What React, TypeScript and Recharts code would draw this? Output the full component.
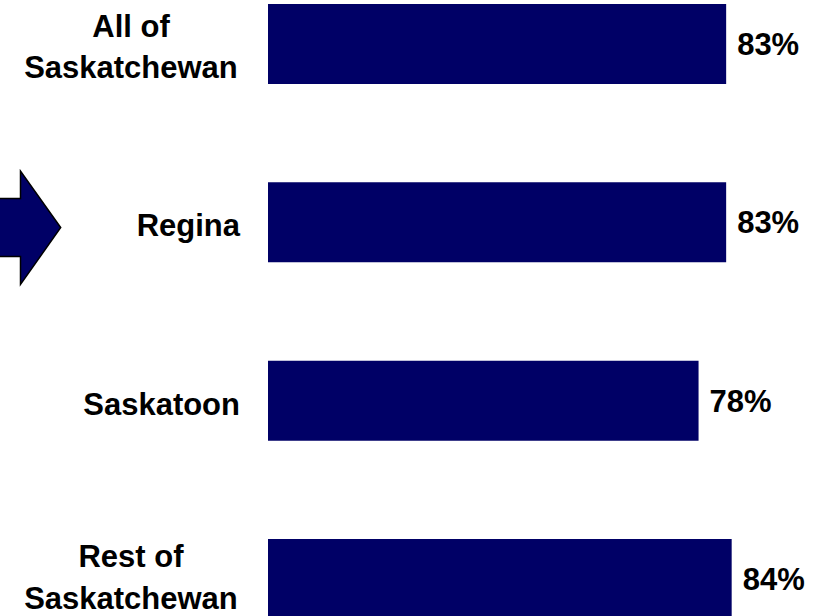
import React from 'react';
import { BarChart, Bar, XAxis, YAxis, LabelList } from 'recharts';

const categories = ['All of\nSaskatchewan', 'Regina', 'Saskatoon', 'Rest of\nSaskatchewan'];
const values = [83, 83, 78, 84];
const valueLabels = ['83%', '83%', '78%', '84%'];
const highlighted = 'Regina';

const data = categories.map((name, i) => ({ name, value: values[i], label: valueLabels[i] }));

const FONT = '"Liberation Sans", Arial, Helvetica, sans-serif';
const BAR_COLOR = '#000066';
const FONT_SIZE = 31;

function CategoryTick(props: any) {
  const { y, payload, index } = props;
  const name = String(payload.value);
  const lines = name.split('\n');
  const arrow =
    name === highlighted ? (
      <polygon
        points={`-5,${y - 24} 20.5,${y - 24} 20.5,${y - 51.5} 60.7,${y + 5} 20.5,${y + 62} 20.5,${y + 34} -5,${y + 34}`}
        fill={BAR_COLOR}
        stroke="#000"
        strokeWidth={1.5}
      />
    ) : null;
  if (lines.length === 1) {
    return (
      <g>
        {arrow}
        <text x={240} y={y + 14} textAnchor="end" fontFamily={FONT} fontWeight="bold" fontSize={FONT_SIZE} fill="#000">
          {name}
        </text>
      </g>
    );
  }
  const isLast = index === categories.length - 1;
  const d1 = isLast ? -12 : -7;
  const d2 = isLast ? 30 : 34;
  return (
    <g>
      {arrow}
      <text textAnchor="middle" fontFamily={FONT} fontWeight="bold" fontSize={FONT_SIZE} fill="#000">
        <tspan x={131} y={y + d1}>{lines[0]}</tspan>
        <tspan x={131} y={y + d2}>{lines[1]}</tspan>
      </text>
    </g>
  );
}

function ValueLabel(props: any) {
  const { x, y, width, height, value } = props;
  return (
    <text
      x={Number(x) + Number(width) + 11}
      y={Number(y) + Number(height) / 2 + 11}
      textAnchor="start"
      fontFamily={FONT}
      fontWeight="bold"
      fontSize={FONT_SIZE}
      fill="#000"
    >
      {value}
    </text>
  );
}

export default function App() {
  return (
    <div style={{ position: 'absolute', left: 0, top: 0, width: 816, height: 616, overflow: 'hidden', background: '#fff' }}>
      <div style={{ position: 'absolute', left: 0, top: -45.17 }}>
        <BarChart
          width={820}
          height={713.33}
          data={data}
          layout="vertical"
          margin={{ top: 0, right: 0, bottom: 0, left: 0 }}
        >
          <XAxis type="number" domain={[0, 100]} hide />
          <YAxis
            type="category"
            dataKey="name"
            width={268}
            axisLine={false}
            tickLine={false}
            interval={0}
            tick={<CategoryTick />}
          />
          <Bar dataKey="value" fill={BAR_COLOR} barSize={80} isAnimationActive={false}>
            <LabelList dataKey="label" content={<ValueLabel />} />
          </Bar>
        </BarChart>
      </div>
    </div>
  );
}
